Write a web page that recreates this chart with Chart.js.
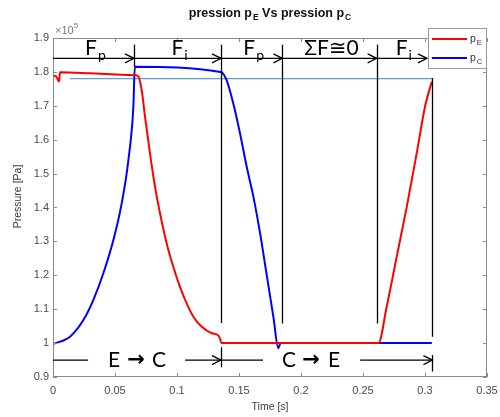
<!DOCTYPE html>
<html>
<head>
<meta charset="utf-8">
<script src="https://cdn.jsdelivr.net/npm/chart.js@4/dist/chart.umd.min.js"></script>
<style>
  html, body { margin: 0; padding: 0; background: #fff; }
  #wrap { width: 500px; height: 417px; position: relative; }
</style>
</head>
<body>
<div id="wrap"><canvas id="c" width="500" height="417"></canvas></div>
<script>
// Pressure on the E side (x1e5 Pa) against time (s)
const timeE = [0, 0.0025, 0.0045, 0.0050, 0.0056, 0.030, 0.066, 0.0685, 0.0715, 0.0742, 0.0782,
  0.0823, 0.0863, 0.0917, 0.0970, 0.1024, 0.1078, 0.1132, 0.1200, 0.1280, 0.1335, 0.1348,
  0.1358, 0.2624, 0.2691, 0.2772, 0.2853, 0.2933, 0.3000, 0.3055];
const presE = [1.789, 1.787, 1.773, 1.772, 1.799, 1.796, 1.790, 1.788, 1.747, 1.668, 1.560,
  1.461, 1.383, 1.294, 1.225, 1.166, 1.117, 1.078, 1.048, 1.029, 1.022, 1.012,
  1.000, 1.000, 1.107, 1.255, 1.402, 1.560, 1.697, 1.772];

// Pressure on the C side (x1e5 Pa) against time (s)
const timeC = [0, 0.0137, 0.0245, 0.0325, 0.0406, 0.0487, 0.0554, 0.0608, 0.0648, 0.0660,
  0.1350, 0.1365, 0.1400, 0.1454, 0.1508, 0.1562, 0.1616, 0.1670, 0.1723, 0.1777,
  0.1817, 0.1835, 0.3055];
const presC = [0.997, 1.019, 1.068, 1.127, 1.206, 1.304, 1.412, 1.540, 1.697, 1.815,
  1.800, 1.798, 1.776, 1.707, 1.619, 1.520, 1.432, 1.324, 1.202, 1.078,
  0.985, 1.000, 1.000];

// Reference pressure level and the time span it is drawn over
const refLevel = 1.78;
const refSpan = [0.0137, 0.3058];

// Axis ranges and tick spacing
const xRange = [0, 0.35], xStep = 0.05;
const yRange = [0.9, 1.9], yStep = 0.1;

// Phase boundaries (s) and the force regime in each phase
const phaseBounds = [0, 0.0653, 0.1355, 0.185, 0.261, 0.306];
const phaseLabels = [['F', 'p'], ['F', 'i'], ['F', 'p'], ['\u03A3F\u22450', ''], ['F', 'i']];
// Flow direction periods
const flowLabels = [['E', 'C'], ['C', 'E']];

const toPts = (xs, ys) => xs.map((x, i) => ({ x: x, y: ys[i] }));

Chart.defaults.font.family = '"Liberation Sans", Arial, sans-serif';

const AXIS_GREY = '#8a8a8a';
const TEXT_GREY = '#4a4a4a';

function subText(ctx, parts, x, y, bigFont, smallFont, subDrop, align) {
  // parts: [base, subscript]; x is centre or left depending on align
  ctx.font = bigFont;
  const w1 = ctx.measureText(parts[0]).width;
  ctx.font = smallFont;
  const w2 = parts[1] ? ctx.measureText(parts[1]).width + 1 : 0;
  let x0 = align === 'left' ? x : x - (w1 + w2) / 2;
  ctx.textAlign = 'left';
  ctx.textBaseline = 'alphabetic';
  ctx.font = bigFont;
  ctx.fillText(parts[0], x0, y);
  if (parts[1]) {
    ctx.font = smallFont;
    ctx.fillText(parts[1], x0 + w1 + 1, y + subDrop);
  }
  return w1 + w2;
}

function arrowHead(ctx, xTip, y) {
  ctx.beginPath();
  ctx.moveTo(xTip - 9, y - 4.5);
  ctx.lineTo(xTip, y);
  ctx.lineTo(xTip - 9, y + 4.5);
  ctx.stroke();
}

const decor = {
  id: 'decor',
  afterDatasetsDraw(chart) {
    const ctx = chart.ctx;
    const xs = chart.scales.x, ys = chart.scales.y;
    const a = chart.chartArea;
    const X = v => xs.getPixelForValue(v);
    const Y = v => ys.getPixelForValue(v);
    ctx.save();

    // frame and inward ticks on all four sides
    ctx.strokeStyle = AXIS_GREY;
    ctx.lineWidth = 1;
    ctx.strokeRect(Math.round(a.left) + 0.5, Math.round(a.top) + 0.5,
      Math.round(a.right - a.left) - 1, Math.round(a.bottom - a.top) - 1);
    ctx.beginPath();
    for (let v = xRange[0]; v <= xRange[1] + 1e-9; v += xStep) {
      const p = Math.round(X(v)) + 0.5;
      ctx.moveTo(p, a.bottom); ctx.lineTo(p, a.bottom - 4);
      ctx.moveTo(p, a.top); ctx.lineTo(p, a.top + 4);
    }
    for (let v = yRange[0]; v <= yRange[1] + 1e-9; v += yStep) {
      const p = Math.round(Y(v)) + 0.5;
      ctx.moveTo(a.left, p); ctx.lineTo(a.left + 4, p);
      ctx.moveTo(a.right, p); ctx.lineTo(a.right - 4, p);
    }
    ctx.stroke();

    // phase boundaries
    ctx.strokeStyle = '#000';
    ctx.lineWidth = 1.3;
    const vSegs = [
      [phaseBounds[1], 1.88, 1.815],
      [phaseBounds[2], 1.88, 1.059], [phaseBounds[2], 0.988, 0.929],
      [phaseBounds[3], 1.88, 1.058],
      [phaseBounds[4], 1.88, 1.058],
      [phaseBounds[5], 1.782, 1.019], [phaseBounds[5], 0.965, 0.916]
    ];
    ctx.beginPath();
    vSegs.forEach(s => { const p = Math.round(X(s[0])) + 0.5; ctx.moveTo(p, Y(s[1])); ctx.lineTo(p, Y(s[2])); });
    ctx.stroke();

    // force regime arrows along the top
    const yTop = Y(1.84);
    const lastTip = 0.3016;
    ctx.beginPath();
    ctx.moveTo(X(0), yTop); ctx.lineTo(X(lastTip), yTop);
    ctx.stroke();
    for (let i = 1; i < phaseBounds.length; i++) {
      const tip = i === phaseBounds.length - 1 ? lastTip : phaseBounds[i];
      arrowHead(ctx, X(tip), yTop);
    }
    ctx.fillStyle = '#000';
    const annFont = '21px Lato, "DejaVu Sans", sans-serif';
    const annSub = '14px Lato, "DejaVu Sans", sans-serif';
    for (let i = 0; i < phaseLabels.length; i++) {
      const hi = i === phaseLabels.length - 1 ? lastTip : phaseBounds[i + 1];
      const cx = (X(phaseBounds[i]) + X(hi)) / 2 + 2;
      subText(ctx, phaseLabels[i], cx, Y(1.85), annFont, annSub, 5, 'center');
    }

    // flow direction arrows along the bottom
    const yBot = Y(0.95);
    const flowSpans = [[phaseBounds[0], phaseBounds[2]], [phaseBounds[2], phaseBounds[5]]];
    const textW = 58;
    flowSpans.forEach((sp, i) => {
      const l = X(sp[0]), r = X(sp[1]);
      const cx = i === 0 ? X(0.067) : X(0.2081);
      ctx.beginPath();
      ctx.moveTo(l, yBot); ctx.lineTo(cx - textW / 2 - 19, yBot);
      ctx.moveTo(cx + textW / 2 + 20, yBot); ctx.lineTo(r, yBot);
      ctx.stroke();
      arrowHead(ctx, r, yBot);
      // "E -> C" text
      const yb = Y(0.9295);
      ctx.textBaseline = 'alphabetic';
      ctx.textAlign = 'center';
      ctx.font = annFont;
      ctx.fillText(flowLabels[i][0], cx - 22, yb);
      ctx.fillText(flowLabels[i][1], cx + 23, yb);
      ctx.font = 'bold 21px "DejaVu Sans", sans-serif';
      ctx.fillText('\u2192', cx, yb - 1);
    });

    ctx.restore();
  },
  afterDraw(chart) {
    const ctx = chart.ctx;
    const a = chart.chartArea;
    ctx.save();

    // exponent marker
    ctx.fillStyle = '#777';
    ctx.font = '11px "Liberation Sans", Arial';
    ctx.textAlign = 'left';
    ctx.textBaseline = 'alphabetic';
    ctx.fillText('\u00D710', a.left + 2, 34);
    const w = ctx.measureText('\u00D710').width;
    ctx.font = '8px "Liberation Sans", Arial';
    ctx.fillText('5', a.left + 2 + w, 28);

    // title
    ctx.fillStyle = '#111';
    const tb = 'bold 12.5px "Liberation Sans", Arial';
    const ts = 'bold 8.5px "Liberation Sans", Arial';
    const parts = [['pression p', 'E'], [' Vs pression p', 'C']];
    ctx.font = tb; let total = 0;
    parts.forEach(p => { ctx.font = tb; total += ctx.measureText(p[0]).width; ctx.font = ts; total += ctx.measureText(p[1]).width + 1; });
    let x = (a.left + a.right) / 2 - total / 2;
    parts.forEach(p => { x += subText(ctx, p, x, 17, tb, ts, 3, 'left'); });

    // axis titles
    ctx.fillStyle = '#3a3a3a';
    ctx.font = '10.5px "Liberation Sans", Arial';
    ctx.textAlign = 'center';
    ctx.textBaseline = 'middle';
    ctx.fillText('Time [s]', (a.left + a.right) / 2, 407);
    ctx.save();
    ctx.translate(18, (a.top + a.bottom) / 2 - 11);
    ctx.rotate(-Math.PI / 2);
    ctx.fillText('Pressure [Pa]', 0, 0);
    ctx.restore();

    // legend
    const lx = 428, ly = 28, lw = 58, lh = 40;
    ctx.fillStyle = '#fff';
    ctx.fillRect(lx, ly, lw, lh);
    ctx.strokeStyle = '#9a9a9a';
    ctx.lineWidth = 1;
    ctx.strokeRect(lx + 0.5, ly + 0.5, lw, lh);
    chart.data.datasets.slice(0, 2).forEach((ds, i) => {
      const yy = ly + 11 + i * 19;
      ctx.strokeStyle = ds.borderColor;
      ctx.lineWidth = 2;
      ctx.beginPath(); ctx.moveTo(lx + 4, yy); ctx.lineTo(lx + 39, yy); ctx.stroke();
      ctx.fillStyle = '#333';
      subText(ctx, ['p', ds.label.slice(2)], lx + 42, yy + 3, '10.5px "Liberation Sans", Arial', '7.5px "Liberation Sans", Arial', 2.5, 'left');
    });
    ctx.restore();
  }
};

new Chart(document.getElementById('c'), {
  type: 'scatter',
  data: {
    datasets: [
      { label: 'p_E', data: toPts(timeE, presE), borderColor: '#ff0000', backgroundColor: '#ff0000',
        showLine: true, borderWidth: 2, pointRadius: 0, cubicInterpolationMode: 'monotone' },
      { label: 'p_C', data: toPts(timeC, presC), borderColor: '#0000ff', backgroundColor: '#0000ff',
        showLine: true, borderWidth: 2, pointRadius: 0, cubicInterpolationMode: 'monotone' },
      { label: 'ref', data: toPts(refSpan, [refLevel, refLevel]), borderColor: '#5b9fdc',
        showLine: true, borderWidth: 1.2, pointRadius: 0, order: 5 }
    ]
  },
  options: {
    responsive: false,
    animation: false,
    events: [],
    layout: { padding: { top: 38, right: 13, left: 0, bottom: 0 } },
    plugins: { legend: { display: false }, tooltip: { enabled: false }, title: { display: false } },
    scales: {
      x: {
        type: 'linear', min: xRange[0], max: xRange[1],
        grid: { display: false, drawTicks: false }, border: { display: false },
        ticks: { stepSize: xStep, padding: 7, color: TEXT_GREY, font: { size: 11 },
          maxRotation: 0, autoSkip: false, callback: v => String(+v.toFixed(2)) },
        afterFit: s => { s.height = 40; s.paddingLeft = 0; s.paddingRight = 0; }
      },
      y: {
        type: 'linear', min: yRange[0], max: yRange[1],
        grid: { display: false, drawTicks: false }, border: { display: false },
        ticks: { stepSize: yStep, padding: 4, color: TEXT_GREY, font: { size: 11 },
          autoSkip: false, callback: v => String(+v.toFixed(1)) },
        afterFit: s => { s.width = 53; s.paddingTop = 0; s.paddingBottom = 0; }
      }
    }
  },
  plugins: [decor]
});
</script>
</body>
</html>
